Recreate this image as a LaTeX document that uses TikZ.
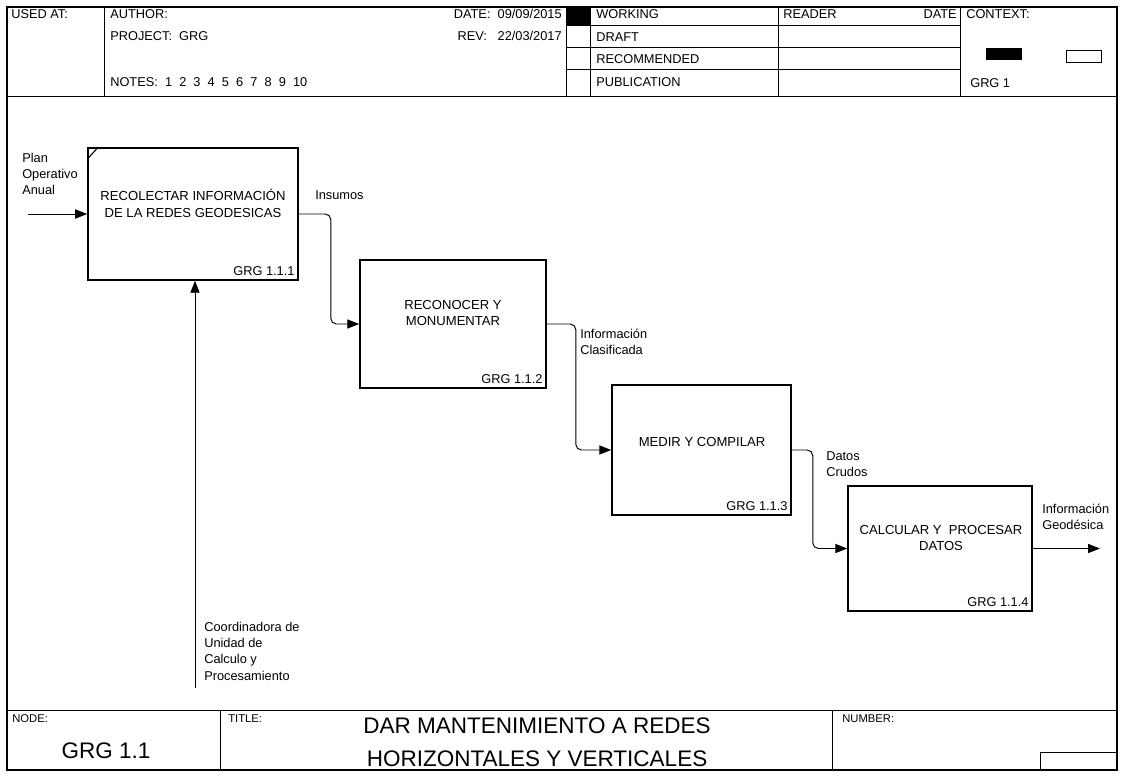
\documentclass[tikz,border=0pt]{standalone}
\usepackage{fontspec}
\setmainfont{Liberation Sans}
\usetikzlibrary{arrows.meta,positioning}

\begin{document}
\begin{tikzpicture}[
    x=0.025cm,y=-0.025cm,
    every node/.style={font=\fontsize{9.1}{11.5}\selectfont,inner sep=0pt},
    frame/.style={draw,line width=0.9pt},
    rule/.style={draw,line width=0.5pt},
    actbox/.style={rectangle,draw,line width=1.1pt},
    acttext/.style={align=center,font=\fontsize{9.3}{12}\selectfont},
    boxid/.style={anchor=south east},
    hdr/.style={anchor=west},
    flow/.style={-{Triangle[length=8.5pt,width=6.5pt]},line width=0.7pt,rounded corners=4pt},
    flowlabel/.style={anchor=north west,align=left},
    smalllbl/.style={anchor=west,font=\fontsize{8}{9}\selectfont},
    bigtext/.style={font=\fontsize{16}{23.5}\selectfont},
]
\useasboundingbox (0,0) rectangle (1124,776);
\draw[frame] (7,7) rectangle (1117,770);
\draw[rule] (7,96) -- (1117,96);
\foreach \x in {104,566,590,778,960} \draw[rule] (\x,7) -- (\x,96);
\foreach \y in {25,47,69} \draw[rule] (566,\y) -- (960,\y);
\fill (566,7) rectangle (590,25);

\node[hdr] (usedat) at (11,14) {USED AT:};
\node[hdr] (author) at (110,14) {AUTHOR:};
\node[hdr] (project) at (110,36) {PROJECT:\ \ GRG};
\node[hdr] (notes) at (110,82) {NOTES:\ \ 1\ \ 2\ \ 3\ \ 4\ \ 5\ \ 6\ \ 7\ \ 8\ \ 9\ \ 10};
\node[anchor=east] (date) at (562,14) {DATE:\ \ 09/09/2015};
\node[anchor=east] (rev) at (562,36) {REV:\ \ \ 22/03/2017};
\node[hdr] (working) at (596,14) {WORKING};
\node[hdr] (draft) at (596,37) {DRAFT};
\node[hdr] (recom) at (596,59) {RECOMMENDED};
\node[hdr] (publ) at (596,82) {PUBLICATION};
\node[hdr] (reader) at (783,14) {READER};
\node[anchor=east] (rdate) at (957,14) {DATE};
\node[hdr] (context) at (966,14) {CONTEXT:};
\fill (986,48) rectangle (1022,60);
\draw[rule] (1066,50) rectangle (1101,62);
\node[hdr] (ctxid) at (970,83) {GRG 1};

\node[actbox,minimum width=5.25cm,minimum height=3.3cm] (a1) at (193,214) {};
\node[actbox,minimum width=4.65cm,minimum height=3.2cm] (a2) at (453,324) {};
\node[actbox,minimum width=4.475cm,minimum height=3.25cm] (a3) at (701.5,450) {};
\node[actbox,minimum width=4.6cm,minimum height=3.125cm] (a4) at (940,548.5) {};
\draw[line width=0.8pt] ([shift={(0,12)}]a1.north west) -- ([shift={(11,0)}]a1.north west);

\node[acttext] (t1) at (193,203) {RECOLECTAR INFORMACIÓN\\DE LA REDES GEODESICAS};
\node[acttext] (t2) at (453,313) {RECONOCER Y\\MONUMENTAR};
\node[acttext] (t3) at (702,442) {MEDIR Y COMPILAR};
\node[acttext] (t4) at (941,538) {CALCULAR Y\ \ PROCESAR\\DATOS};
\node[boxid] (n1) at ([shift={(-4,-5)}]a1.south east) {GRG 1.1.1};
\node[boxid] (n2) at ([shift={(-4,-5)}]a2.south east) {GRG 1.1.2};
\node[boxid] (n3) at ([shift={(-4,-5)}]a3.south east) {GRG 1.1.3};
\node[boxid] (n4) at ([shift={(-4,-5)}]a4.south east) {GRG 1.1.4};

\coordinate (inA) at (28,214);
\coordinate (outA) at (1100,548.5);
\coordinate (mech) at (195,688);
\draw[flow] (inA) -- (a1.west);
\draw[flow] (a1.east) -- ++(32,0) |- (a2.west);
\draw[flow] (a2.east) -- ++(29,0) |- (a3.west);
\draw[flow] (a3.east) -- ++(21,0) |- (a4.west);
\draw[flow] (a4.east) -- (outA);
\draw[flow] (mech) -- (mech |- a1.south);

\node[flowlabel] (l0) at (22,153) {Plan\\Operativo\\Anual};
\node[hdr] (l1) at (315,195) {Insumos};
\node[flowlabel] (l2) at (580,329) {Información\\Clasificada};
\node[flowlabel] (l3) at (826,451) {Datos\\Crudos};
\node[flowlabel] (l4) at (1042,504) {Información\\Geodésica};
\node[flowlabel] (l5) at (204,622) {Coordinadora de\\Unidad de\\Calculo y\\Procesamiento};

\draw[rule] (7,710) -- (1117,710);
\draw[rule] (220,710) -- (220,770);
\draw[rule] (832,710) -- (832,770);
\draw[rule] (1040,770) |- (1117,752);
\node[smalllbl] (nodelbl) at (12,719) {NODE:};
\node[smalllbl] (titlelbl) at (228,719) {TITLE:};
\node[smalllbl] (numlbl) at (842,719) {NUMBER:};
\node[bigtext] (nodeid) at (106,751) {GRG 1.1};
\node[bigtext,align=center] (title) at (537,742) {DAR MANTENIMIENTO A REDES\\HORIZONTALES Y VERTICALES};
\end{tikzpicture}
\end{document}
